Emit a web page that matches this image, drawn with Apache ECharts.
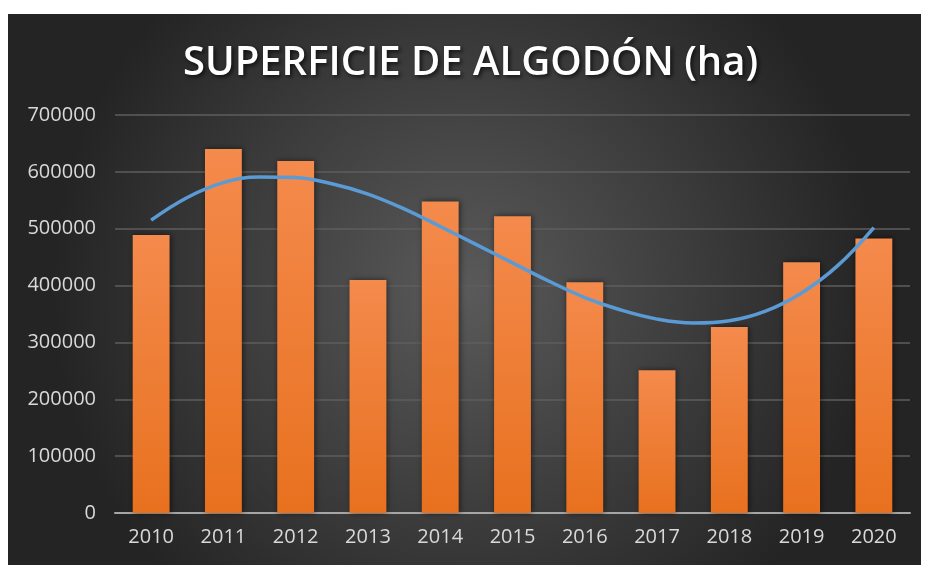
<!DOCTYPE html>
<html>
<head>
<meta charset="utf-8">
<script src="https://cdn.jsdelivr.net/npm/echarts@6/dist/echarts.min.js"></script>
<style>
  html, body { margin: 0; padding: 0; background: #ffffff; width: 925px; height: 565px; overflow: hidden; }
  #chart { position: absolute; left: 8px; top: 14px; width: 913px; height: 551px; }
</style>
</head>
<body>
<div id="chart"></div>
<script>
const titleText = 'SUPERFICIE DE ALGODÓN (ha)';
const years = ['2010', '2011', '2012', '2013', '2014', '2015', '2016', '2017', '2018', '2019', '2020'];
const hectares = [489000, 640000, 619000, 410000, 548000, 522000, 406000, 251000, 327000, 441000, 483000];
// trend curve every half year
const trendYears = [2010, 2010.5, 2011, 2011.5, 2012, 2012.5, 2013, 2013.5, 2014, 2014.5, 2015,
                    2015.5, 2016, 2016.5, 2017, 2017.5, 2018, 2018.5, 2019, 2019.5, 2020];
const trendValues = [515000, 555000, 581000, 591000, 590000, 579000, 561000, 535000, 504000, 472000, 440000,
                     408000, 379000, 357000, 341000, 334000, 338000, 355000, 387000, 435000, 502000];
const yTicks = { min: 0, max: 700000, interval: 100000 };

const chart = echarts.init(document.getElementById('chart'));
chart.setOption({
  backgroundColor: {
    type: 'radial', x: 0.5, y: 0.5, r: 0.75,
    colorStops: [
      { offset: 0, color: '#5a5a5a' },
      { offset: 1, color: '#242424' }
    ]
  },
  title: {
    text: titleText,
    left: 175,
    top: 30,
    padding: 0,
    textStyle: {
      fontFamily: 'Open Sans',
      fontWeight: 600,
      fontSize: 40,
      color: '#ffffff',
      textShadowColor: 'rgba(0,0,0,0.7)',
      textShadowBlur: 4,
      textShadowOffsetX: 2,
      textShadowOffsetY: 2
    }
  },
  grid: { left: 107, right: 11, top: 101, bottom: 52, containLabel: false },
  xAxis: [
    {
      type: 'category',
      data: years,
      axisLine: { lineStyle: { color: '#a6a6a6', width: 2 } },
      axisTick: { show: false },
      axisLabel: { color: '#d9d9d9', fontFamily: 'Open Sans', fontSize: 20, margin: 14 }
    },
    {
      type: 'value',
      min: 2009.5, max: 2020.5,
      show: false
    }
  ],
  yAxis: {
    type: 'value',
    min: yTicks.min, max: yTicks.max, interval: yTicks.interval,
    axisLine: { show: false },
    axisTick: { show: false },
    axisLabel: {
      color: '#d9d9d9', fontFamily: 'Open Sans', fontSize: 20, margin: 19,
      formatter: function (v) { return String(v); }
    },
    splitLine: { lineStyle: { color: '#5e5e5e', width: 1.5 } }
  },
  series: [
    {
      type: 'bar',
      data: hectares,
      barWidth: '51%',
      itemStyle: {
        color: {
          type: 'linear', x: 0, y: 0, x2: 0, y2: 1,
          colorStops: [
            { offset: 0, color: '#f48a4c' },
            { offset: 1, color: '#e8711f' }
          ]
        },
        shadowColor: 'rgba(0,0,0,0.55)',
        shadowBlur: 6,
        shadowOffsetX: 1,
        shadowOffsetY: 0
      }
    },
    {
      type: 'line',
      xAxisIndex: 1,
      data: trendYears.map(function (y, i) { return [y, trendValues[i]]; }),
      smooth: 0.4,
      symbol: 'none',
      lineStyle: { color: '#5b9bd5', width: 3.5 },
      z: 5
    }
  ],
  animation: false
});
</script>
</body>
</html>
